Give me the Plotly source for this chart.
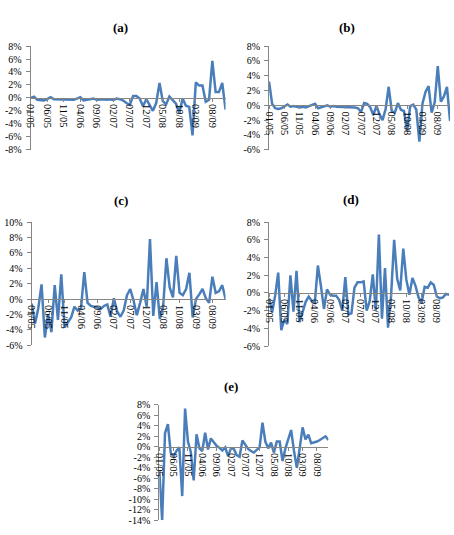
import plotly.graph_objects as go

# ---- data -------------------------------------------------------------
months = [
    "01/05", "02/05", "03/05", "04/05", "05/05", "06/05", "07/05", "08/05", "09/05", "10/05", "11/05", "12/05",
    "01/06", "02/06", "03/06", "04/06", "05/06", "06/06", "07/06", "08/06", "09/06", "10/06", "11/06", "12/06",
    "01/07", "02/07", "03/07", "04/07", "05/07", "06/07", "07/07", "08/07", "09/07", "10/07", "11/07", "12/07",
    "01/08", "02/08", "03/08", "04/08", "05/08", "06/08", "07/08", "08/08", "09/08", "10/08", "11/08", "12/08",
    "01/09", "02/09", "03/09", "04/09", "05/09", "06/09", "07/09", "08/09", "09/09", "10/09", "11/09", "12/09",
]
tick_labels = ["01/05", "06/05", "11/05", "04/06", "09/06", "02/07",
               "07/07", "12/07", "05/08", "10/08", "03/09", "08/09"]

series_a = [0.0, 0.2, -0.3, -0.4, -0.4, -0.2, 0.1, -0.2, -0.2, -0.3,
            -0.2, -0.3, -0.2, -0.3, -0.1, 0.1, -0.4, -0.3, -0.1, -0.1,
            -0.3, -0.2, -0.2, -0.3, -0.2, -0.3, -0.1, -0.2, -0.4, -0.8,
            -1.1, 0.3, 0.3, -0.1, -1.3, -0.2, -1.1, -2.0, -0.8, 2.3,
            -0.5, -1.0, 0.2, -0.4, -0.9, -2.3, -0.1, -1.2, -1.4, -5.8,
            2.4, 1.9, 1.9, -0.6, -0.3, 5.7, 0.9, 0.9, 2.3, -1.8]

series_b = [3.2, 0.2, -0.4, -0.5, -0.4, -0.2, 0.1, -0.2, -0.1, -0.2,
            -0.3, -0.2, -0.3, -0.1, 0.0, 0.2, -0.4, -0.3, -0.1, 0.0,
            -0.2, -0.1, -0.2, -0.2, -0.3, -0.2, -0.3, -0.2, -0.3, -0.4,
            -0.9, 0.3, 0.2, -0.3, -1.3, -0.1, -1.2, -2.0, -0.5, 2.5,
            -0.8, -1.0, 0.3, -0.6, -0.8, -3.5, -0.1, 0.1, -0.6, -4.9,
            0.2, 1.8, 2.6, -1.0, 0.4, 5.3, 0.5, 1.2, 2.5, -2.1]

series_c = [-0.6, -3.2, -1.2, 1.9, -5.0, -2.0, -4.3, 1.8, -2.7, 3.2,
            -3.7, -3.0, -2.4, -1.0, -1.5, -1.2, 3.5, -0.5, -0.9, -1.0,
            -1.1, -1.3, -0.9, -0.7, -2.3, 0.1, -1.6, -2.3, -1.5, 0.5,
            1.3, -0.2, -2.1, -0.5, 1.3, -1.0, 7.8, -2.2, 2.2, -2.6,
            -1.0, 5.3, 1.5, 0.2, 5.6, 0.8, 0.5, 1.3, 3.4, -2.4,
            0.0, 0.6, 1.3, 0.1, -0.5, 2.9, 0.8, 1.0, 1.8, 0.0]

series_d = [-0.6, -2.2, -0.3, 2.3, -4.2, -3.0, -3.5, 2.0, -2.1, 2.5,
            -3.3, -2.0, -1.0, -0.4, -0.9, -1.1, 3.1, 0.8, -1.8, 0.4,
            -0.2, -0.3, -0.3, -0.8, -2.0, 1.8, -2.4, -2.3, 0.6, 1.2,
            1.2, 1.3, -2.0, -0.9, 2.1, -2.0, 6.6, -2.9, 2.8, -3.9,
            -0.3, 6.0, 1.6, 0.3, 5.0, 1.5, -0.2, 1.7, 0.8, -0.5,
            -1.1, 0.7, 0.6, 1.2, 0.9, -0.4, -0.6, -0.5, -0.1, -0.2]

series_e = [-4.5, -14.0, 2.6, 4.3, -1.2, -1.8, -0.8, -0.1, -9.4, 7.3,
            1.0, -1.0, -6.4, 2.4, -0.3, -0.8, 2.7, -0.5, 1.6, 0.8,
            0.2, -0.2, -0.7, -0.1, -1.8, -0.3, -0.4, -1.6, -1.9, 1.2,
            0.4, -0.4, -0.8, -1.1, -0.6, -0.1, 4.6, 1.0, -0.3, 0.8,
            -1.1, 1.0, 1.0, -2.7, -0.3, 1.7, 3.2, -0.8, -4.0, -0.2,
            3.7, 1.4, 2.3, 0.7, 0.8, 1.0, 1.3, 1.6, 2.0, 1.3]

titles = ["(a)", "(b)", "(c)", "(d)", "(e)"]
y_ticks_a = [-8, -6, -4, -2, 0, 2, 4, 6, 8]
y_ticks_b = [-6, -4, -2, 0, 2, 4, 6, 8]
y_ticks_c = [-6, -4, -2, 0, 2, 4, 6, 8, 10]
y_ticks_d = [-6, -4, -2, 0, 2, 4, 6, 8]
y_ticks_e = [-14, -12, -10, -8, -6, -4, -2, 0, 2, 4, 6, 8]

# ---- layout geometry (pixels in a 454x535 canvas) --------------------
W, H = 454, 535
panels = [
    # series, yticks, (x0, x1), (ytop, ybottom), title center (x, y)
    (series_a, y_ticks_a, (26, 223), (41, 147), (117, 22)),
    (series_b, y_ticks_b, (267, 450), (41, 147), (346, 22)),
    (series_c, y_ticks_c, (27, 223), (221, 347), (117, 199)),
    (series_d, y_ticks_d, (267, 449), (221, 348), (350, 198)),
    (series_e, y_ticks_e, (156, 327), (408, 526), (229, 389)),
]

FONT = "Liberation Serif, Times New Roman, serif"
AXIS_COLOR = "#868686"
LINE_COLOR = "#4A7EBB"

fig = go.Figure()
layout = dict(
    width=W, height=H,
    margin=dict(l=0, r=0, t=0, b=0),
    paper_bgcolor="white", plot_bgcolor="white",
    showlegend=False,
    font=dict(family=FONT, size=10, color="black"),
    annotations=[],
)

for k, (vals, yt, (x0, x1), (yt_px, yb_px), (tx, ty)) in enumerate(panels, start=1):
    xs = "" if k == 1 else str(k)
    fig.add_trace(go.Scatter(
        x=months, y=vals, mode="lines",
        line=dict(color=LINE_COLOR, width=2.5),
        xaxis="x" + xs, yaxis="y" + xs, hoverinfo="skip",
    ))
    xd = [x0 / W, x1 / W]
    yd = [1 - yb_px / H, 1 - yt_px / H]
    ymin, ymax = yt[0], yt[-1]
    zero_pos = yd[0] + (0 - ymin) / (ymax - ymin) * (yd[1] - yd[0])
    layout["xaxis" + xs] = dict(
        domain=xd, type="category", range=[0, len(months) - 1],
        anchor="free", position=zero_pos,
        showline=True, linecolor=AXIS_COLOR, linewidth=1,
        ticks="outside", ticklen=3, tickcolor=AXIS_COLOR,
        tickmode="array", tickvals=tick_labels, ticktext=tick_labels,
        tickangle=90, tickfont=dict(family=FONT, size=10.5, color="black"),
        showgrid=False, zeroline=False, fixedrange=True,
    )
    layout["yaxis" + xs] = dict(
        domain=yd, range=[ymin, ymax], anchor="x" + xs,
        showline=True, linecolor=AXIS_COLOR, linewidth=1,
        ticks="outside", ticklen=4, tickcolor=AXIS_COLOR,
        ticklabelstandoff=2,
        tickmode="array", tickvals=yt, ticktext=[f"{v}%" for v in yt],
        tickfont=dict(family=FONT, size=10, color="black"),
        showgrid=False, zeroline=False, fixedrange=True,
    )
    layout["annotations"].append(dict(
        text="<b>" + titles[k - 1] + "</b>", x=tx / W, y=1 - ty / H,
        xref="paper", yref="paper", showarrow=False,
        xanchor="center", yanchor="middle",
        font=dict(family=FONT, size=13, color="black"),
    ))

fig.update_layout(**layout)
fig.write_html("out.html")
